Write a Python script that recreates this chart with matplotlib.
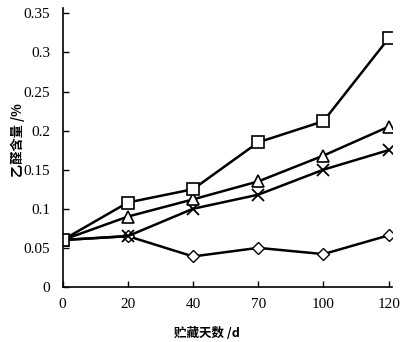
import numpy as np
import matplotlib.pyplot as plt

days = ['0', '20', '40', '70', '100', '120']
square = [0.060, 0.108, 0.125, 0.185, 0.212, 0.318]
triangle = [0.060, 0.090, 0.112, 0.135, 0.168, 0.205]
cross = [0.060, 0.065, 0.100, 0.118, 0.150, 0.175]
diamond = [0.060, 0.065, 0.039, 0.050, 0.042, 0.066]
yticks = [0, 0.05, 0.1, 0.15, 0.2, 0.25, 0.3, 0.35]
ytick_labels = ['0', '0.05', '0.1', '0.15', '0.2', '0.25', '0.3', '0.35']

cjk = ['Noto Sans CJK SC', 'DejaVu Sans']
num_font = 'Liberation Serif'

fig = plt.figure(figsize=(4.04, 3.42), dpi=100)
ax = fig.add_axes([0.155, 0.161, 0.815, 0.816])

x = np.arange(len(days))
ax.plot(x, diamond, color='black', lw=1.8, marker='D', ms=6, mfc='white', mec='black', mew=1.0)
ax.plot(x, cross, color='black', lw=1.8, marker='x', ms=9, mew=1.3)
ax.plot(x, triangle, color='black', lw=1.8, marker='^', ms=9, mfc='white', mec='black', mew=1.2)
ax.plot(x, square, color='black', lw=1.8, marker='s', ms=9, mfc='white', mec='black', mew=1.2)

ax.set_xlim(0, 5.05)
ax.set_ylim(0, 0.357)
ax.set_xticks(x)
ax.set_xticklabels(days, fontfamily=num_font, fontsize=11)
ax.set_yticks(yticks)
ax.set_yticklabels(ytick_labels, fontfamily=num_font, fontsize=11)
ax.tick_params(direction='in', length=4, width=1)
ax.tick_params(axis='x', pad=8)
ax.tick_params(axis='y', pad=9)

for side in ['top', 'right']:
    ax.spines[side].set_visible(False)
for side in ['left', 'bottom']:
    ax.spines[side].set_linewidth(1.2)

fig.text(0.512, 0.026, '贮藏天数 /d', family=cjk, fontsize=9, fontweight='bold',
         ha='center', va='center')
fig.text(0.045, 0.59, '乙醛含量 /%', family=cjk, fontsize=9.5, fontweight='bold',
         rotation=90, ha='center', va='center')

fig.savefig('out.png', dpi=100)
